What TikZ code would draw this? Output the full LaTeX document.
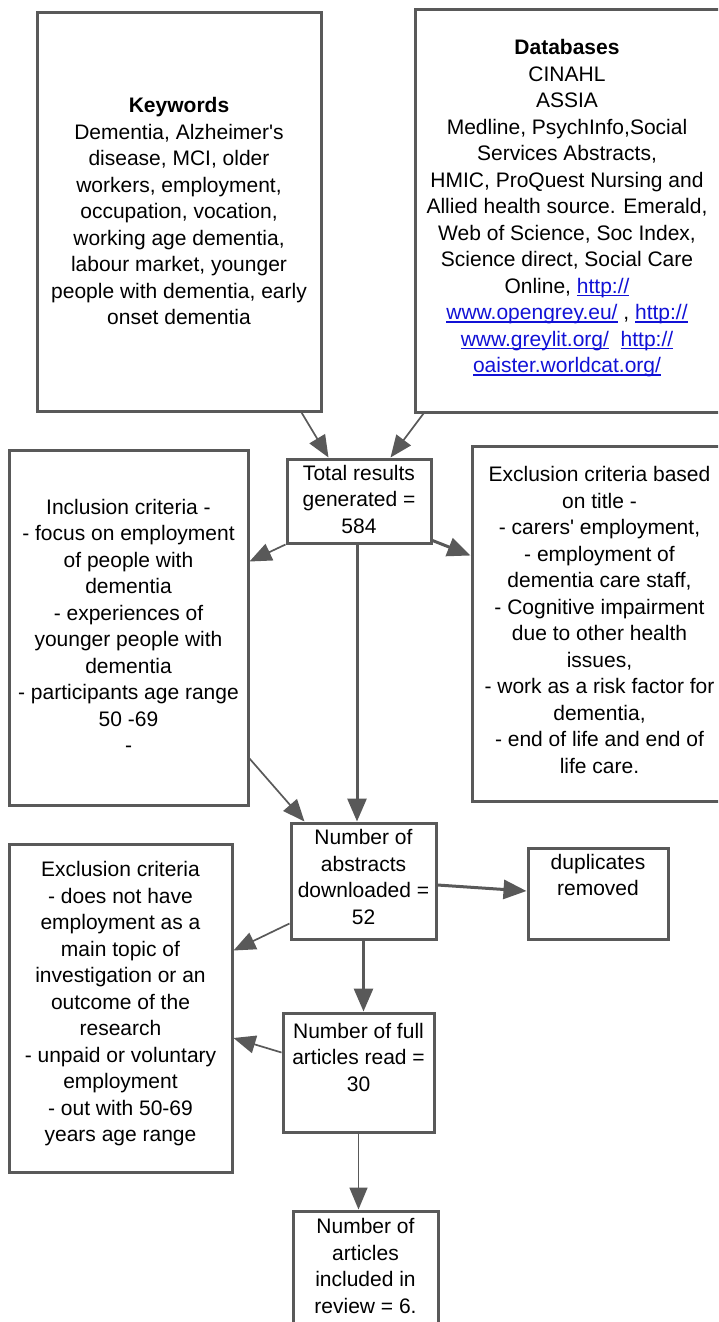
\documentclass[tikz,border=0pt]{standalone}
\usepackage{fontspec}
\setmainfont{Liberation Sans}
\usetikzlibrary{arrows.meta,calc}
\definecolor{edge}{RGB}{89,89,89}
\definecolor{linkblue}{RGB}{17,17,214}
% link text: blue, with a thin rule just below the baseline
\newcommand{\lnk}[1]{{\color{linkblue}\setbox0\hbox{#1}\rlap{\rule[-2.8pt]{\wd0}{1.3pt}}\box0}}
\newcommand{\apos}{\textquotesingle}
\tikzset{
  box/.style={draw=edge, line width=3pt, rectangle, inner sep=0pt},
  txt/.style={align=center, inner sep=0pt, font=\fontsize{21}{26.5}\selectfont},
  thinarrow/.style={draw=edge, line width=1.7pt, -{Triangle[length=22pt,width=18pt]}},
  thickarrow/.style={draw=edge, line width=3pt, -{Triangle[length=23pt,width=19pt]}}
}
\begin{document}
\begin{tikzpicture}[x=1pt,y=-1pt]
\clip (0,0) rectangle (718,1322);

% boxes
\node[box, minimum width=284pt, minimum height=398pt] (kw)  at (179,212) {};
\node[box, minimum width=305pt, minimum height=402pt] (db)  at (567.5,211) {};
\node[box, minimum width=144pt, minimum height=84pt]  (tot) at (359,501) {};
\node[box, minimum width=239pt, minimum height=355pt] (inc) at (128.5,627.5) {};
\node[box, minimum width=255pt, minimum height=355pt] (ext) at (599.5,623.5) {};
\node[box, minimum width=145pt, minimum height=116pt] (abs) at (363.5,881) {};
\node[box, minimum width=140pt, minimum height=91pt]  (dup) at (598,893.5) {};
\node[box, minimum width=223pt, minimum height=328pt] (exl) at (120.5,1008) {};
\node[box, minimum width=151pt, minimum height=119pt] (full) at (358.5,1072.5) {};
\node[box, minimum width=145pt, minimum height=129pt] (incl) at (365.5,1275.5) {};

% texts
\node[txt] (kwt) at (179,211) {\textbf{Keywords}\\Dementia, Alzheimer\apos s\\disease, MCI, older\\workers, employment,\\occupation, vocation,\\working age dementia,\\labour market, younger\\people with dementia, early\\onset dementia};
\node[txt] (dbt) at (567,208.5) {\textbf{Databases}\\CINAHL\\ASSIA\\Medline, PsychInfo,Social\\Services Abstracts,\\HMIC, ProQuest Nursing and\\Allied health source. Emerald,\\Web of Science, Soc Index,\\Science direct, Social Care\\Online, \lnk{http://}\\\lnk{www.opengrey.eu/} , \lnk{http://}\\\lnk{www.greylit.org/}\ \ \lnk{http://}\\\lnk{oaister.worldcat.org/}};
\node[txt] (tott) at (359,499) {Total results\\generated =\\584};
\node[txt] (inct) at (128.5,626) {Inclusion criteria -\\- focus on employment\\of people with\\dementia\\- experiences of\\younger people with\\dementia\\- participants age range\\50 -69\\-};
\node[txt] (extt) at (599.5,620) {Exclusion criteria based\\on title -\\- carers\apos\ employment,\\- employment of\\dementia care staff,\\- Cognitive impairment\\due to other health\\issues,\\- work as a risk factor for\\dementia,\\- end of life and end of\\life care.};
\node[txt] (abst) at (363.5,877) {Number of\\abstracts\\downloaded =\\52};
\node[txt] (dupt) at (598,875) {duplicates\\removed};
\node[txt] (exlt) at (120.5,1004) {Exclusion criteria\\- does not have\\employment as a\\main topic of\\investigation or an\\outcome of the\\research\\- unpaid or voluntary\\employment\\- out with 50-69\\years age range};
\node[txt] (fullt) at (358.5,1057) {Number of full\\articles read =\\30};
\node[txt] (inclt) at (365.5,1266) {Number of\\articles\\included in\\review = 6.};

% connectors
\draw[thinarrow] ($(kw.south west)+(266,0)$) -- ($(tot.north west)+(43,0)$);
\draw[thinarrow] ($(db.south west)+(10,0)$) -- ($(tot.north west)+(105,0)$);
\draw[thinarrow] (tot.south west) -- ($(inc.north east)+(0,113)$);
\draw[thickarrow] ($(tot.south east)+(0,-4)$) -- ($(ext.north west)+(0,111)$);
\coordinate (t1) at ($(tot.south)+(-2,0)$);
\draw[thickarrow] (t1) -- (t1 |- abs.north);
\draw[thinarrow] ($(inc.south east)+(0,-48)$) -- ($(abs.north west)+(15,0)$);
\draw[thickarrow] ($(abs.east)+(0,4)$) -- ($(dup.west)+(0,-2.5)$);
\draw[thinarrow] ($(abs.south west)+(0,-17)$) -- ($(exl.north east)+(0,108)$);
\draw[thickarrow] (abs.south) -- (abs.south |- full.north);
\draw[thinarrow] ($(full.west)+(0,-20)$) -- ($(exl.east)+(0,30)$);
\draw[thinarrow] (full.south) -- (full.south |- incl.north);
\end{tikzpicture}
\end{document}
